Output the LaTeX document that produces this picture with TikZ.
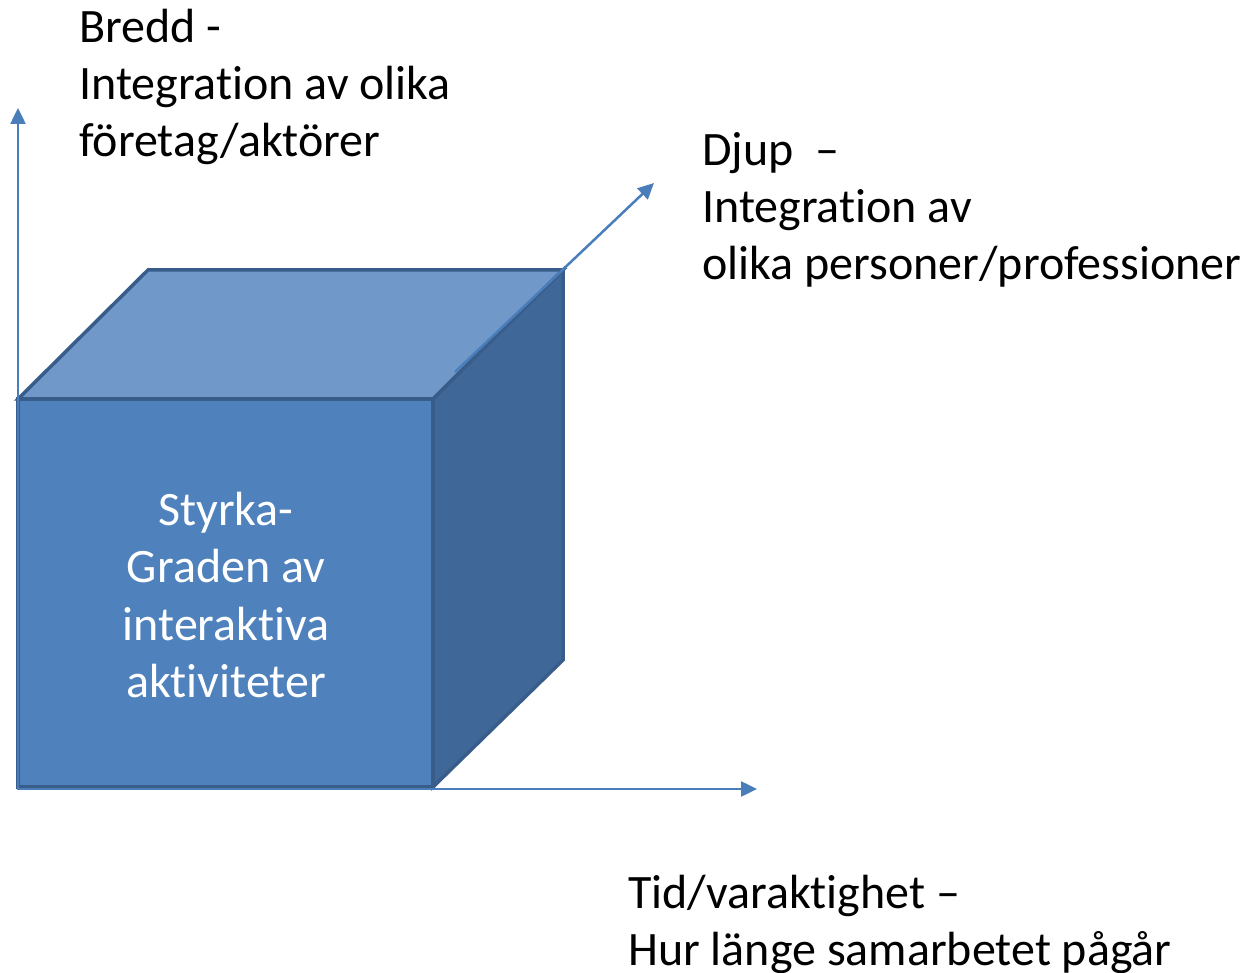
\documentclass[tikz,border=0pt]{standalone}
\usepackage{fontspec}
\setmainfont{Carlito}[Ligatures={NoCommon,NoRare}]
\usetikzlibrary{arrows.meta}
\definecolor{front}{HTML}{4F81BD}
\definecolor{topf}{HTML}{7099CA}
\definecolor{sidef}{HTML}{3F6797}
\definecolor{edgec}{HTML}{385D8A}
\definecolor{axisc}{HTML}{4A7EBB}
\tikzset{
  face/.style={draw=edgec, line width=3.5pt, line join=miter},
  axis/.style={draw=axisc, line width=2.5pt, -{Triangle[length=16pt,width=15pt]}},
  lbl/.style={anchor=north west, inner sep=0pt, align=left, font=\fontsize{48}{57}\selectfont},
  cubetxt/.style={inner sep=0pt, align=center, text=white, font=\fontsize{48}{57.5}\selectfont}
}
\begin{document}
\begin{tikzpicture}[x=1pt,y=-1pt]
\useasboundingbox (0,0) rectangle (1245,973);
% cube corners
\coordinate (A) at (18,399);
\coordinate (B) at (433,399);
\coordinate (C) at (433,787);
\coordinate (D) at (18,787);
\coordinate (E) at (148,270);
\coordinate (F) at (563,270);
\coordinate (G) at (563,660);
\path[face, fill=topf] (A) -- (E) -- (F) -- (B) -- cycle;
\path[face, fill=sidef] (B) -- (F) -- (G) -- (C) -- cycle;
\path[face, fill=front] (A) -- (B) -- (C) -- (D) -- cycle;
% axes
\coordinate (O) at (18,790);
\coordinate (Ytip) at (18,108);
\coordinate (Xtip) at (757,789);
\coordinate (Ds) at (455,372);
\coordinate (Dtip) at (654,183);
\draw[axis] (O) -- (Ytip);
\draw[axis] (O |- Xtip) -- (Xtip);
\draw[axis] (Ds) -- (Dtip);
% labels
\node[lbl] (bredd) at (79,9) {Bredd -\\Integration av olika\\företag/aktörer};
\node[lbl] (djup) at (702,132) {Djup\ \ –\\Integration av\\olika personer/professioner};
\node[lbl] (tid) at (628,875) {Tid/varaktighet –\\Hur länge samarbetet pågår};
\node[cubetxt] (styrka) at (226,595) {Styrka-\\Graden av\\interaktiva\\aktiviteter};
\end{tikzpicture}
\end{document}
